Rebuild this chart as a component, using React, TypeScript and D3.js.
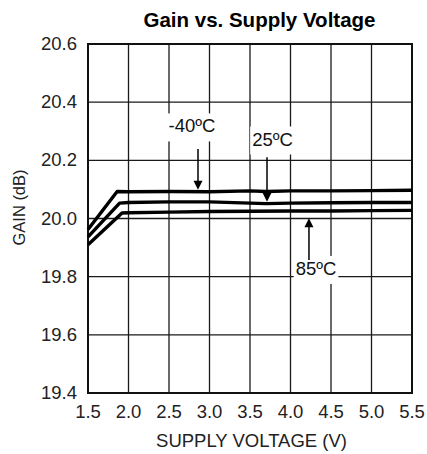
import * as d3 from "d3";
import React, { useEffect, useRef } from "react";

// supply voltage (V) / gain (dB)
const voltsM40 = [1.5, 1.86, 2.0, 2.5, 3.0, 3.5, 3.7, 4.0, 4.5, 5.0, 5.5];
const gainM40 = [19.962, 20.093, 20.092, 20.093, 20.092, 20.095, 20.093, 20.095, 20.095, 20.096, 20.097];

const volts25 = [1.5, 1.89, 2.0, 2.5, 3.0, 3.5, 3.7, 4.0, 4.5, 5.0, 5.5];
const gain25 = [19.937, 20.053, 20.055, 20.057, 20.057, 20.053, 20.051, 20.053, 20.054, 20.055, 20.055];

const volts85 = [1.5, 1.92, 2.0, 2.5, 3.0, 3.5, 4.0, 4.5, 5.0, 5.5];
const gain85 = [19.91, 20.019, 20.02, 20.022, 20.024, 20.025, 20.026, 20.026, 20.027, 20.028];

const xTicks = [1.5, 2.0, 2.5, 3.0, 3.5, 4.0, 4.5, 5.0, 5.5];
const yTicks = [19.4, 19.6, 19.8, 20.0, 20.2, 20.4, 20.6];

// temperature labels: text position and arrow (from -> to) in data units
const labelText = ["-40ºC", "25ºC", "85ºC"];
const labelAt = [
	[2.784, 20.296],
	[3.778, 20.251],
	[4.315, 19.806],
];
const arrowFrom = [
	[2.858, 20.239],
	[3.71, 20.211],
	[4.228, 19.857],
];
const arrowTo = [
	[2.858, 20.099],
	[3.71, 20.058],
	[4.228, 20.001],
];

const App = (): JSX.Element => {
	const svgRef = useRef<SVGSVGElement>(null);

	useEffect(() => {
		const margin = { top: 44, right: 15, bottom: 61, left: 88 },
			width = 427 - margin.left - margin.right,
			height = 454 - margin.top - margin.bottom;
		const font = "Liberation Sans, Arial, Helvetica, sans-serif";

		const root = d3.select(svgRef.current);
		root.selectAll("*").remove();

		// title
		root.append("text")
			.attr("x", 259.5)
			.attr("y", 27)
			.attr("text-anchor", "middle")
			.attr("font-family", font)
			.attr("font-weight", "bold")
			.attr("font-size", 20.5)
			.text("Gain vs. Supply Voltage");

		const svg = root.append("g").attr("transform", `translate(${margin.left},${margin.top})`);

		const x = d3.scaleLinear().domain([1.5, 5.5]).range([0, width]);
		const y = d3.scaleLinear().domain([19.4, 20.6]).range([height, 0]);

		// grid
		svg.append("g")
			.selectAll("line")
			.data(xTicks)
			.join("line")
			.attr("x1", (d) => x(d))
			.attr("x2", (d) => x(d))
			.attr("y1", 0)
			.attr("y2", height)
			.attr("stroke", "#1a1a1a")
			.attr("stroke-width", 1.3);
		svg.append("g")
			.selectAll("line")
			.data(yTicks)
			.join("line")
			.attr("x1", 0)
			.attr("x2", width)
			.attr("y1", (d) => y(d))
			.attr("y2", (d) => y(d))
			.attr("stroke", "#1a1a1a")
			.attr("stroke-width", 1.3);

		// frame
		svg.append("rect")
			.attr("width", width)
			.attr("height", height)
			.attr("fill", "none")
			.attr("stroke", "#111")
			.attr("stroke-width", 2);

		// curves
		const line = d3
			.line<[number, number]>()
			.x((d) => x(d[0]))
			.y((d) => y(d[1]));
		const series: [number[], number[]][] = [
			[voltsM40, gainM40],
			[volts25, gain25],
			[volts85, gain85],
		];
		series.forEach(([vs, gs]) => {
			svg.append("path")
				.datum(vs.map((v, i) => [v, gs[i]] as [number, number]))
				.attr("d", line)
				.attr("fill", "none")
				.attr("stroke", "#000")
				.attr("stroke-width", 3.4)
				.attr("stroke-linejoin", "round");
		});

		// labels with white knockout boxes
		labelText.forEach((t, i) => {
			const g = svg.append("g");
			const txt = g
				.append("text")
				.attr("x", x(labelAt[i][0]))
				.attr("y", y(labelAt[i][1]))
				.attr("text-anchor", "middle")
				.attr("font-family", font)
				.attr("font-size", 18.5)
				.attr("fill", "#111")
				.text(t);
			const bb = (txt.node() as SVGTextElement).getBBox();
			g.insert("rect", "text")
				.attr("x", bb.x - 2)
				.attr("y", bb.y - 2)
				.attr("width", bb.width + 4)
				.attr("height", bb.height + 7)
				.attr("fill", "#fff");

			const x0 = x(arrowFrom[i][0]),
				y0 = y(arrowFrom[i][1]),
				y1 = y(arrowTo[i][1]);
			const dir = y1 > y0 ? 1 : -1;
			svg.append("line")
				.attr("x1", x0)
				.attr("x2", x0)
				.attr("y1", y0)
				.attr("y2", y1 - dir * 6)
				.attr("stroke", "#000")
				.attr("stroke-width", 1.5);
			svg.append("path")
				.attr("d", `M${x0 - 4.5},${y1 - dir * 9}L${x0 + 4.5},${y1 - dir * 9}L${x0},${y1}Z`)
				.attr("fill", "#000");
		});

		// tick labels
		svg.append("g")
			.selectAll("text")
			.data(yTicks)
			.join("text")
			.attr("x", -11)
			.attr("y", (d) => y(d) + 6)
			.attr("text-anchor", "end")
			.attr("font-family", font)
			.attr("font-size", 18.5)
			.attr("fill", "#222")
			.text((d) => d.toFixed(1));
		svg.append("g")
			.selectAll("text")
			.data(xTicks)
			.join("text")
			.attr("x", (d) => x(d))
			.attr("y", height + 25)
			.attr("text-anchor", "middle")
			.attr("font-family", font)
			.attr("font-size", 18.5)
			.attr("fill", "#222")
			.text((d) => d.toFixed(1));

		// axis titles
		root.append("text")
			.attr("x", 251.5)
			.attr("y", 447)
			.attr("text-anchor", "middle")
			.attr("font-family", font)
			.attr("font-size", 18.5)
			.attr("fill", "#222")
			.text("SUPPLY VOLTAGE (V)");
		root.append("text")
			.attr("transform", "translate(25,207.5) rotate(-90)")
			.attr("text-anchor", "middle")
			.attr("font-family", font)
			.attr("font-size", 16.5)
			.attr("fill", "#222")
			.text("GAIN (dB)");
	}, []);

	return (
		<svg
			ref={svgRef}
			width={427}
			height={454}
			style={{ position: "absolute", left: 0, top: 0, background: "#fff" }}
		/>
	);
};

export default App;
